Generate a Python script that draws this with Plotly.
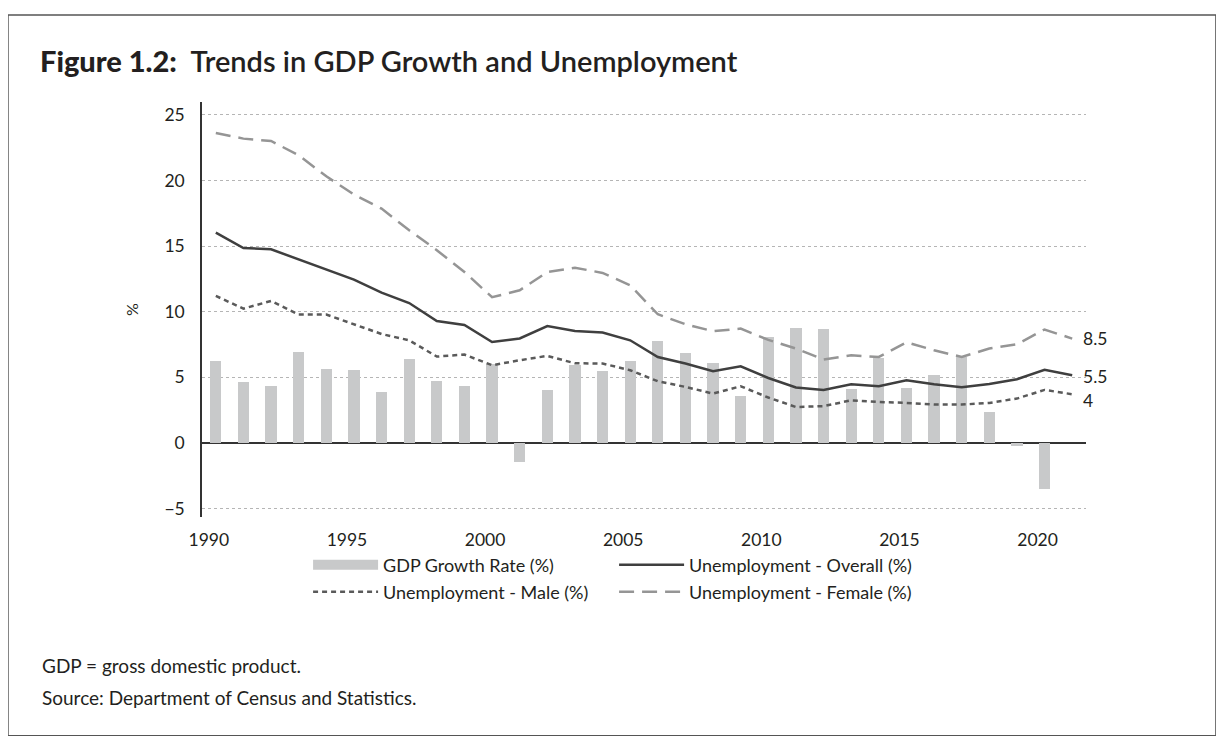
import plotly.graph_objects as go

years = list(range(1990, 2022))
gdp_years = list(range(1990, 2021))
gdp_growth = [6.25, 4.65, 4.34, 6.96, 5.66, 5.56, 3.86, 6.37, 4.75, 4.34,
              6.0, -1.47, 4.04, 5.97, 5.46, 6.27, 7.77, 6.86, 6.07, 3.56,
              8.05, 8.76, 8.66, 4.14, 6.45, 4.22, 5.16, 6.55, 2.34, -0.2, -3.53]
unemp_overall = [16.02, 14.85, 14.75, 13.99, 13.23, 12.44, 11.45, 10.66, 9.29, 8.99,
                 7.69, 7.96, 8.9, 8.52, 8.41, 7.82, 6.55, 6.05, 5.46, 5.84,
                 4.95, 4.22, 4.04, 4.47, 4.32, 4.78, 4.47, 4.24, 4.49, 4.85,
                 5.57, 5.16]
unemp_male = [11.2, 10.23, 10.82, 9.78, 9.78, 9.04, 8.3, 7.82, 6.58, 6.73,
              5.92, 6.3, 6.63, 6.07, 6.05, 5.54, 4.7, 4.27, 3.76, 4.32,
              3.46, 2.74, 2.8, 3.25, 3.12, 3.05, 2.92, 2.92, 3.05, 3.38,
              4.04, 3.71]
unemp_female = [23.61, 23.18, 23.0, 21.91, 20.31, 18.92, 17.85, 16.2, 14.68, 13.02,
                11.1, 11.63, 13.02, 13.35, 12.95, 12.01, 9.8, 9.04, 8.51, 8.71,
                7.85, 7.19, 6.35, 6.68, 6.55, 7.67, 7.06, 6.55, 7.19, 7.52,
                8.64, 7.95]
end_labels = ["8.5", "5.5", "4"]
x_ticks = [1990, 1995, 2000, 2005, 2010, 2015, 2020]
y_ticks = [-5, 0, 5, 10, 15, 20, 25]

FONT = "Lato"
TXT = "#231f20"
BAR_GRAY = "#c8c9ca"

fig = go.Figure()
fig.add_trace(go.Bar(x=gdp_years, y=gdp_growth, name="GDP Growth Rate (%)",
                     marker=dict(color=BAR_GRAY, line=dict(width=0)),
                     width=0.41, showlegend=False))
# legend swatch for the bars (wide block, as in the reference)
fig.add_trace(go.Scatter(x=[None], y=[None], mode="lines", name="GDP Growth Rate (%)",
                         line=dict(color=BAR_GRAY, width=14), legend="legend"))
fig.add_trace(go.Scatter(x=years, y=unemp_overall, mode="lines",
                         name="Unemployment - Overall (%)",
                         line=dict(color="#3f3f3f", width=2.5), legend="legend"))
fig.add_trace(go.Scatter(x=years, y=unemp_male, mode="lines",
                         name="Unemployment - Male (%)",
                         line=dict(color="#5a5a5a", width=2.5, dash="5px,4px"),
                         legend="legend2"))
fig.add_trace(go.Scatter(x=years, y=unemp_female, mode="lines",
                         name="Unemployment - Female (%)",
                         line=dict(color="#959595", width=2.5, dash="15px,8px"),
                         legend="legend2"))

# end labels
for txt, series, dy in zip(end_labels, [unemp_female, unemp_overall, unemp_male], [0, -1, -6]):
    fig.add_annotation(x=years[-1], y=series[-1], text=txt, showarrow=False,
                       xanchor="left", yanchor="middle", xshift=9, yshift=dy,
                       font=dict(family=FONT, size=17.5, color=TXT))

# frame
fig.add_shape(type="rect", xref="paper", yref="paper",
              x0=-0.2195, x1=1.147, y0=-0.527, y1=1.2096,
              line=dict(color="#555555", width=1.5), fillcolor="rgba(0,0,0,0)",
              layer="below")

# title
fig.add_annotation(xref="paper", yref="paper", x=-0.1855, y=1.099, xanchor="left",
                   yanchor="middle", showarrow=False,
                   text="<span style='font-weight:900'>Figure 1.2:</span>  Trends in GDP Growth and Unemployment",
                   font=dict(family=FONT, size=29, color=TXT, weight=600))

# footnotes
fig.add_annotation(xref="paper", yref="paper", x=-0.1833, y=-0.359, xanchor="left",
                   yanchor="middle", showarrow=False, text="GDP = gross domestic product.",
                   font=dict(family=FONT, size=19, color=TXT))
fig.add_annotation(xref="paper", yref="paper", x=-0.1833, y=-0.434, xanchor="left",
                   yanchor="middle", showarrow=False,
                   text="Source: Department of Census and Statistics.",
                   font=dict(family=FONT, size=19, color=TXT))

leg_common = dict(orientation="h", xanchor="left", yanchor="middle",
                  entrywidth=226, entrywidthmode="pixels", itemwidth=65,
                  font=dict(family=FONT, size=18, color=TXT),
                  bgcolor="rgba(0,0,0,0)", tracegroupgap=0)

fig.update_layout(
    width=1216, height=728,
    margin=dict(l=194, r=138, t=94, b=219),
    paper_bgcolor="white", plot_bgcolor="white",
    font=dict(family=FONT, size=15, color=TXT),
    showlegend=True,
    bargap=0,
    legend=dict(x=0.12, y=-0.1157, **leg_common),
    legend2=dict(x=0.12, y=-0.1807, **leg_common),
    xaxis=dict(range=[1989.5, 2021.5], tickvals=x_ticks, ticktext=[str(v) for v in x_ticks],
               showgrid=False, zeroline=False, showline=False,
               ticks="outside", ticklen=7, tickcolor="rgba(0,0,0,0)",
               ticklabelshift=-7, tickfont=dict(size=17.5, color=TXT)),
    yaxis=dict(range=[-5.64, 25.97], tickvals=y_ticks,
               showgrid=True, gridcolor="#b5b5b5", griddash="dot", gridwidth=1,
               zeroline=True, zerolinecolor="#333333", zerolinewidth=1.5,
               showline=True, linecolor="#333333", linewidth=1.5,
               ticks="outside", ticklen=12, tickcolor="rgba(0,0,0,0)",
               tickfont=dict(size=17.5, color=TXT),
               title=dict(text="%", font=dict(size=16, color=TXT), standoff=22)),
)

fig.write_html("out.html")
